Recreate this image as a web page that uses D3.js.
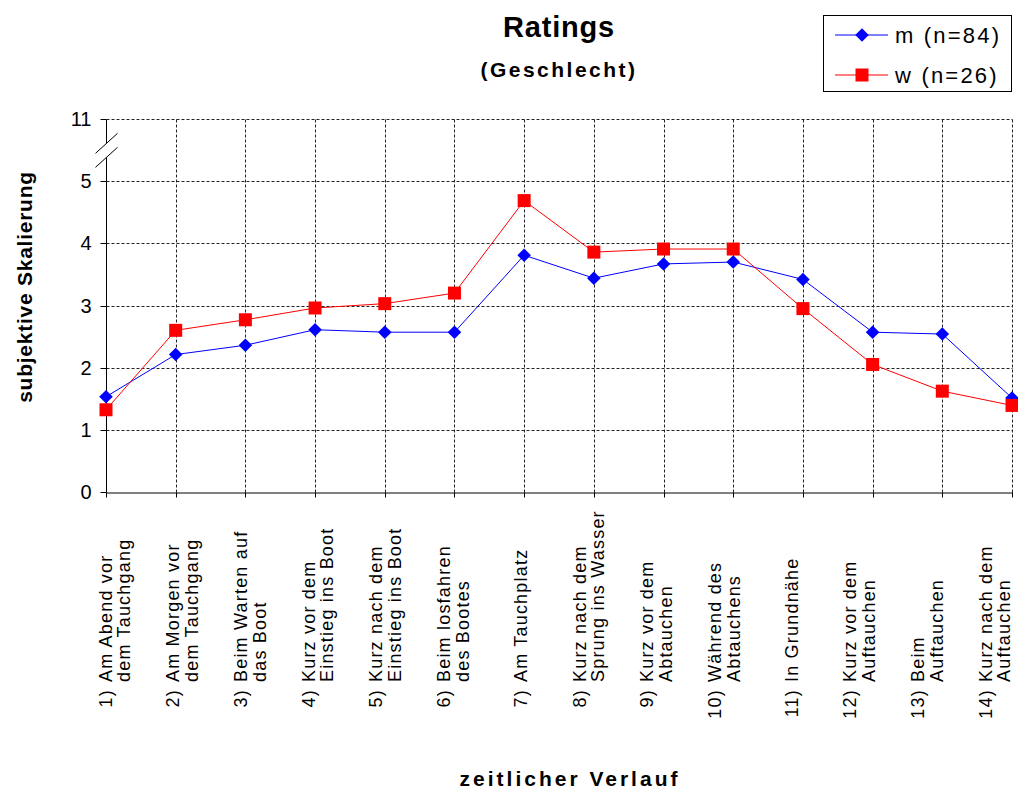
<!DOCTYPE html>
<html>
<head>
<meta charset="utf-8">
<script src="https://cdn.jsdelivr.net/npm/d3@7"></script>
<style>
  body { margin: 0; background: #fff; }
  svg { display: block; }
  text { font-family: "Liberation Sans", Arial, Helvetica, sans-serif; fill: #000; }
</style>
</head>
<body>
<svg id="chart" width="1018" height="790"></svg>
<script>
// Phases of a dive, in time order (number prefix, then one or two label lines)
const categories = [
  "1) Am Abend vor\ndem Tauchgang",
  "2) Am Morgen vor\ndem Tauchgang",
  "3) Beim Warten auf\ndas Boot",
  "4) Kurz vor dem\nEinstieg ins Boot",
  "5) Kurz nach dem\nEinstieg ins Boot",
  "6) Beim losfahren\ndes Bootes",
  "7) Am Tauchplatz",
  "8) Kurz nach dem\nSprung ins Wasser",
  "9) Kurz vor dem\nAbtauchen",
  "10) Während des\nAbtauchens",
  "11) In Grundnähe",
  "12) Kurz vor dem\nAuftauchen",
  "13) Beim\nAuftauchen",
  "14) Kurz nach dem\nAuftauchen"
];

const seriesNames = ["m (n=84)", "w (n=26)"];
const seriesColors = ["#0000ff", "#ff0000"];

// Mean ratings per phase
const valuesM = [1.53, 2.21, 2.36, 2.61, 2.57, 2.57, 3.81, 3.44, 3.67, 3.70, 3.42, 2.57, 2.54, 1.51];
const valuesW = [1.32, 2.60, 2.77, 2.96, 3.03, 3.20, 4.69, 3.86, 3.91, 3.91, 2.95, 2.05, 1.62, 1.39];

// Value axis: 0..5, then a break up to 11
const yTickValues = [0, 1, 2, 3, 4, 5, 11];
const yTickLabels = ["0", "1", "2", "3", "4", "5", "11"];
const yBreakValue = 8;

const titleText = "Ratings";
const subtitleText = "(Geschlecht)";
const yTitleText = "subjektive Skalierung";
const xTitleText = "zeitlicher Verlauf";

const svg = d3.select("#chart");
const plot = { left: 106, right: 1012, top: 119.3, bottom: 491.7 };

const x = d3.scalePoint()
  .domain(d3.range(categories.length))
  .range([plot.left, plot.right]);

const unit = (plot.bottom - plot.top) / 6;
const y = d3.scaleLinear()
  .domain([0, 5, 11])
  .range([plot.bottom, plot.bottom - 5 * unit, plot.top]);

const crisp = v => Math.round(v) + 0.5;

// Dashed grid
const grid = svg.append("g")
  .attr("stroke", "#222")
  .attr("stroke-width", 1)
  .attr("stroke-dasharray", "3,2")
  .attr("fill", "none");

grid.selectAll("line.h")
  .data(yTickValues.filter(v => v > 0))
  .join("line")
  .attr("class", "h")
  .attr("x1", crisp(plot.left)).attr("x2", crisp(plot.right))
  .attr("y1", d => crisp(y(d))).attr("y2", d => crisp(y(d)));

grid.selectAll("line.v")
  .data(d3.range(1, categories.length))
  .join("line")
  .attr("class", "v")
  .attr("x1", d => crisp(x(d))).attr("x2", d => crisp(x(d)))
  .attr("y1", crisp(plot.top)).attr("y2", crisp(plot.bottom));

// Y axis: ticks and labels from d3.axisLeft, axis line drawn with a break
const yAxis = svg.append("g")
  .attr("transform", `translate(${crisp(plot.left)},0)`)
  .call(d3.axisLeft(y)
    .tickValues(yTickValues)
    .tickFormat((d, i) => yTickLabels[i])
    .tickSize(6)
    .tickPadding(9));
yAxis.select(".domain").remove();
yAxis.selectAll(".tick line").attr("stroke", "#000");
yAxis.selectAll(".tick text")
  .attr("font-size", 20)
  .attr("font-family", "'Liberation Sans', Arial, sans-serif")
  .attr("fill", "#000");
yAxis.selectAll(".tick")
  .attr("transform", d => `translate(0,${crisp(y(d))})`);

const breakY = y(yBreakValue);
const breakHalf = 7;
const axisX = crisp(plot.left);
svg.append("line")
  .attr("x1", axisX).attr("x2", axisX)
  .attr("y1", crisp(plot.top)).attr("y2", breakY - breakHalf)
  .attr("stroke", "#000");
svg.append("line")
  .attr("x1", axisX).attr("x2", axisX)
  .attr("y1", breakY + breakHalf).attr("y2", crisp(plot.bottom))
  .attr("stroke", "#000");
[-breakHalf, breakHalf].forEach(off => {
  svg.append("line")
    .attr("x1", axisX - 11).attr("y1", breakY + off + 10)
    .attr("x2", axisX + 11).attr("y2", breakY + off - 10)
    .attr("stroke", "#000");
});

// X axis
const xAxis = svg.append("g")
  .attr("transform", `translate(0,${crisp(plot.bottom)})`)
  .call(d3.axisBottom(x).tickSize(5).tickSizeOuter(0).tickFormat(""));
xAxis.select(".domain").attr("stroke", "#000");
xAxis.selectAll(".tick line").attr("stroke", "#000");
xAxis.selectAll(".tick").attr("transform", d => `translate(${crisp(x(d))},0)`);

// Rotated category labels with hanging indent after the number
const labelX = d3.scalePoint()
  .domain(d3.range(categories.length))
  .range([plot.left + 12, plot.right - 14]);
const labelStart = 682;
const lineGap = 18.7;
const labelFont = 18;
const labelSpacing = 1.2;

const labels = svg.append("g");
categories.forEach((cat, i) => {
  const lines = cat.split("\n");
  const m = lines[0].match(/^(\d+\))\s+(.*)$/);
  const prefix = m[1];
  const first = m[2];
  const n = lines.length;
  const g = labels.append("g")
    .attr("transform", `translate(${labelX(i)},0) rotate(-90)`);
  const base0 = 3 - (n - 1) * lineGap / 2;
  g.append("text")
    .attr("x", -labelStart - 7)
    .attr("y", base0)
    .attr("text-anchor", "end")
    .attr("font-size", labelFont)
    .attr("letter-spacing", labelSpacing)
    .text(prefix);
  [first, ...lines.slice(1)].forEach((t, k) => {
    g.append("text")
      .attr("x", -labelStart)
      .attr("y", base0 + k * lineGap)
      .attr("font-size", labelFont)
      .attr("letter-spacing", labelSpacing)
      .text(t);
  });
});

// Series lines and markers
const series = [
  { name: seriesNames[0], values: valuesM, color: seriesColors[0], shape: "diamond" },
  { name: seriesNames[1], values: valuesW, color: seriesColors[1], shape: "square" }
];

const line = d3.line()
  .x((d, i) => x(i))
  .y(d => y(d));

const diamond = d3.symbol(d3.symbolSquare, 92)();
const square = d3.symbol(d3.symbolSquare, 169)();

function drawMarker(sel, shape, color) {
  sel.append("path")
    .attr("d", shape === "diamond" ? diamond : square)
    .attr("transform", shape === "diamond" ? "rotate(45)" : null)
    .attr("fill", color)
    .attr("stroke", "none");
}

series.forEach(s => {
  svg.append("path")
    .datum(s.values)
    .attr("d", line)
    .attr("fill", "none")
    .attr("stroke", s.color)
    .attr("stroke-width", 1);
});
series.forEach(s => {
  svg.append("g")
    .selectAll("g")
    .data(s.values)
    .join("g")
    .attr("transform", (d, i) => `translate(${x(i)},${y(d)})`)
    .each(function () { drawMarker(d3.select(this), s.shape, s.color); });
});

// Titles
svg.append("text")
  .attr("x", 559).attr("y", 37)
  .attr("text-anchor", "middle")
  .attr("font-size", 29).attr("font-weight", "bold")
  .attr("letter-spacing", 0.8)
  .text(titleText);
svg.append("text")
  .attr("x", 559).attr("y", 77)
  .attr("text-anchor", "middle")
  .attr("font-size", 21).attr("font-weight", "bold")
  .attr("letter-spacing", 2.5)
  .text(subtitleText);
svg.append("text")
  .attr("transform", `translate(32,287) rotate(-90)`)
  .attr("text-anchor", "middle")
  .attr("font-size", 21).attr("font-weight", "bold")
  .attr("letter-spacing", 0.75)
  .text(yTitleText);
svg.append("text")
  .attr("x", 570).attr("y", 786)
  .attr("text-anchor", "middle")
  .attr("font-size", 21).attr("font-weight", "bold")
  .attr("letter-spacing", 3)
  .text(xTitleText);

// Legend
const legend = svg.append("g");
legend.append("rect")
  .attr("x", 823.5).attr("y", 15.5)
  .attr("width", 188).attr("height", 76)
  .attr("fill", "#fff").attr("stroke", "#000");
series.forEach((s, i) => {
  const ly = 35 + i * 40;
  legend.append("line")
    .attr("x1", 835).attr("x2", 888)
    .attr("y1", ly).attr("y2", ly)
    .attr("stroke", s.color);
  const mg = legend.append("g").attr("transform", `translate(862,${ly})`);
  drawMarker(mg, s.shape, s.color);
  legend.append("text")
    .attr("x", 895).attr("y", ly + 8)
    .attr("font-size", 22)
    .attr("letter-spacing", 2.2)
    .text(s.name);
});
</script>
</body>
</html>
